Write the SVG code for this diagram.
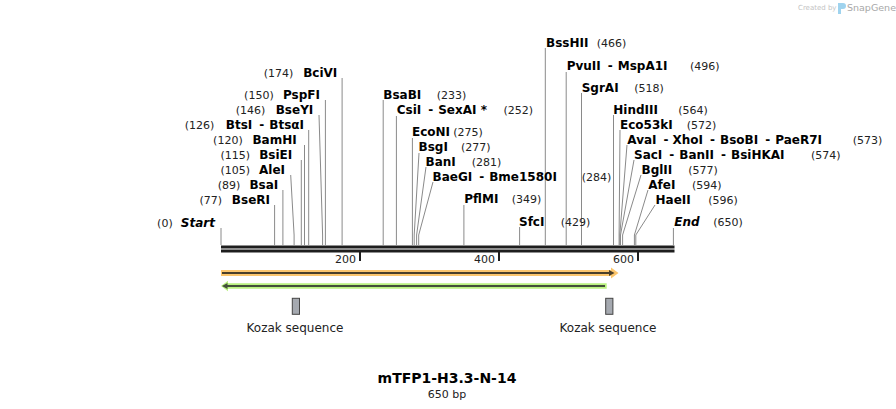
<svg xmlns="http://www.w3.org/2000/svg" width="896" height="409" viewBox="0 0 896 409">
<style>
.n{font-family:"DejaVu Sans",Verdana,sans-serif;font-weight:bold;font-size:12px;fill:#000}
.i{font-style:italic}
.p{font-family:"DejaVu Sans",Verdana,sans-serif;font-size:11px;fill:#222;font-weight:normal}
.e{text-anchor:end}
.cut{stroke:#8a8a8a;stroke-width:1;fill:none}
.bb{stroke:#1e1e1e;stroke-width:3}
.tick{stroke:#1e1e1e;stroke-width:2}
.lab{font-family:"DejaVu Sans",Verdana,sans-serif;font-size:12px;fill:#222}
.kz{fill:#a5a9b0;stroke:#444;stroke-width:1}
</style>
<rect width="896" height="409" fill="#fff"/>

<g id="logo">
<text x="798" y="10" style="font-family:'DejaVu Sans',sans-serif;font-size:7px;fill:#c4c4c4">Created by</text>
<path d="M838 3 h5 a3 3 0 0 1 0 6 h-2 v5 h-3 z" fill="#9fd3ee"/>
<text x="847" y="11" style="font-family:'DejaVu Sans',sans-serif;font-size:9.5px;fill:#a8a8a8">SnapGene</text>
</g>

<g id="connectors">
<polyline class="cut" points="221,228 221,245"/>
<polyline class="cut" points="274.6,205 274.6,245"/>
<polyline class="cut" points="282.9,190 282.9,245"/>
<polyline class="cut" points="290.7,175 294.1,235 294.1,245"/>
<polyline class="cut" points="301.3,160 301.3,245"/>
<polyline class="cut" points="304.5,145 304.5,245"/>
<polyline class="cut" points="308.7,130 308.7,245"/>
<polyline class="cut" points="319,115 322.6,235 322.6,245"/>
<polyline class="cut" points="325.4,100 325.4,245"/>
<polyline class="cut" points="342.1,78 342.1,245"/>
<polyline class="cut" points="383.2,100 383.2,245"/>
<polyline class="cut" points="396.4,116 396.4,245"/>
<polyline class="cut" points="412.4,138 412.4,245"/>
<polyline class="cut" points="419,153 414.2,235 414.2,245"/>
<polyline class="cut" points="426,167 416.6,235 416.6,245"/>
<polyline class="cut" points="433,182 418.7,235 418.7,245"/>
<polyline class="cut" points="463.9,205 463.9,245"/>
<polyline class="cut" points="519.6,227 519.6,245"/>
<polyline class="cut" points="545.3,48 545.3,245"/>
<polyline class="cut" points="566.2,72 566.2,245"/>
<polyline class="cut" points="581.5,93 581.5,245"/>
<polyline class="cut" points="613.5,115 613.5,245"/>
<polyline class="cut" points="620,130 619.1,235 619.1,245"/>
<polyline class="cut" points="627,145 619.8,235 619.8,245"/>
<polyline class="cut" points="634,160 620.5,235 620.5,245"/>
<polyline class="cut" points="641,175 622.6,235 622.6,245"/>
<polyline class="cut" points="648,190 634.4,235 634.4,245"/>
<polyline class="cut" points="655,205 635.8,235 635.8,245"/>
<polyline class="cut" points="673.4,228 673.4,245"/>
</g>

<g id="backbone">
<line class="bb" x1="221" y1="247" x2="674.5" y2="247"/>
<line class="bb" x1="221" y1="251" x2="674.5" y2="251"/>
<line class="tick" x1="360" y1="252" x2="360" y2="261"/>
<line class="tick" x1="499" y1="252" x2="499" y2="261"/>
<line class="tick" x1="638" y1="252" x2="638" y2="261"/>
<text class="p e" x="356" y="263">200</text>
<text class="p e" x="495" y="263">400</text>
<text class="p e" x="634" y="263">600</text>
</g>

<g id="feature-forward">
<polygon points="221,270 611,270 611,267.5 618.5,273 611,278.5 611,276 221,276" fill="#fcc66d"/>
<line x1="222" y1="273" x2="610" y2="273" stroke="#4a3f2a" stroke-width="2"/>
<polygon points="609,270 614.5,273 609,276" fill="#4a3f2a"/>
</g>
<g id="feature-reverse">
<polygon points="606.7,283.3 228,283.3 228,280.8 221,286 228,291.2 228,288.7 606.7,288.7" fill="#b9f27f"/>
<line x1="605" y1="286" x2="227" y2="286" stroke="#44503a" stroke-width="2"/>
<polygon points="227.5,283 222,286 227.5,289" fill="#44503a"/>
</g>

<g id="kozak-1">
<rect class="kz" x="292.3" y="298.3" width="7.2" height="16"/>
<text class="lab" x="295" y="332" text-anchor="middle">Kozak sequence</text>
</g>
<g id="kozak-2">
<rect class="kz" x="605.7" y="298.3" width="7.2" height="16"/>
<text class="lab" x="608" y="332" text-anchor="middle">Kozak sequence</text>
</g>

<g id="site-start"><text class="p e" x="172.7" y="226.5">(0)</text><text class="n i e" x="215" y="226.5">Start</text></g>
<g id="site-BseRI"><text class="p e" x="222" y="204">(77)</text><text class="n e" x="270" y="204">BseRI</text></g>
<g id="site-BsaI"><text class="p e" x="240.3" y="189">(89)</text><text class="n e" x="278.3" y="189">BsaI</text></g>
<g id="site-AleI"><text class="p e" x="250" y="174">(105)</text><text class="n e" x="285" y="174">AleI</text></g>
<g id="site-BsiEI"><text class="p e" x="250" y="159">(115)</text><text class="n e" x="292.3" y="159">BsiEI</text></g>
<g id="site-BamHI"><text class="p e" x="242.7" y="144">(120)</text><text class="n e" x="296.7" y="144">BamHI</text></g>
<g id="site-BtsI"><text class="p e" x="214.3" y="128.5">(126)</text><text class="n e" x="304" y="128.5">BtsI<tspan dx="7">-</tspan><tspan dx="5">BtsαI</tspan></text></g>
<g id="site-BseYI"><text class="p e" x="265.3" y="113.5">(146)</text><text class="n e" x="313.3" y="113.5">BseYI</text></g>
<g id="site-PspFI"><text class="p e" x="273.7" y="98.5">(150)</text><text class="n e" x="320" y="98.5">PspFI</text></g>
<g id="site-BciVI"><text class="p e" x="293.3" y="76.5">(174)</text><text class="n e" x="337.3" y="76.5">BciVI</text></g>

<g id="site-BsaBI"><text class="n" x="383.3" y="98.5">BsaBI</text><text class="p" x="436.7" y="98.5">(233)</text></g>
<g id="site-CsiI"><text class="n" x="396.7" y="114">CsiI<tspan dx="7">-</tspan><tspan dx="5">SexAI *</tspan></text><text class="p" x="503.5" y="114">(252)</text></g>
<g id="site-EcoNI"><text class="n" x="412" y="135.5">EcoNI</text><text class="p" x="453.3" y="135.5">(275)</text></g>
<g id="site-BsgI"><text class="n" x="418.5" y="150.5">BsgI</text><text class="p" x="461" y="150.5">(277)</text></g>
<g id="site-BanI"><text class="n" x="425.5" y="165.5">BanI</text><text class="p" x="471.7" y="165.5">(281)</text></g>
<g id="site-BaeGI"><text class="n" x="432.5" y="180.5">BaeGI<tspan dx="7">-</tspan><tspan dx="5">Bme1580I</tspan></text><text class="p" x="581.7" y="180.5">(284)</text></g>
<g id="site-PflMI"><text class="n" x="464.3" y="203">PflMI</text><text class="p" x="511.7" y="203">(349)</text></g>
<g id="site-SfcI"><text class="n" x="519" y="225.5">SfcI</text><text class="p" x="560.7" y="225.5">(429)</text></g>
<g id="site-BssHII"><text class="n" x="546" y="46.5">BssHII</text><text class="p" x="596.7" y="46.5">(466)</text></g>
<g id="site-PvuII"><text class="n" x="566.7" y="70">PvuII<tspan dx="7">-</tspan><tspan dx="5">MspA1I</tspan></text><text class="p" x="690" y="70">(496)</text></g>
<g id="site-SgrAI"><text class="n" x="581.7" y="92">SgrAI</text><text class="p" x="634.3" y="92">(518)</text></g>
<g id="site-HindIII"><text class="n" x="613.3" y="113.5">HindIII</text><text class="p" x="678.3" y="113.5">(564)</text></g>
<g id="site-Eco53kI"><text class="n" x="620" y="128.5">Eco53kI</text><text class="p" x="686.7" y="128.5">(572)</text></g>
<g id="site-AvaI"><text class="n" x="627.3" y="143.5">AvaI<tspan dx="7">-</tspan><tspan dx="5">XhoI</tspan><tspan dx="7">-</tspan><tspan dx="5">BsoBI</tspan><tspan dx="7">-</tspan><tspan dx="5">PaeR7I</tspan></text><text class="p" x="852.7" y="143.5">(573)</text></g>
<g id="site-SacI"><text class="n" x="634" y="158.5">SacI<tspan dx="7">-</tspan><tspan dx="5">BanII</tspan><tspan dx="7">-</tspan><tspan dx="5">BsiHKAI</tspan></text><text class="p" x="811" y="158.5">(574)</text></g>
<g id="site-BglII"><text class="n" x="641.5" y="173.5">BglII</text><text class="p" x="688.3" y="173.5">(577)</text></g>
<g id="site-AfeI"><text class="n" x="648.3" y="188.5">AfeI</text><text class="p" x="692" y="188.5">(594)</text></g>
<g id="site-HaeII"><text class="n" x="655.5" y="203.5">HaeII</text><text class="p" x="708.3" y="203.5">(596)</text></g>
<g id="site-end"><text class="n i" x="674.3" y="225.5">End</text><text class="p" x="713.3" y="225.5">(650)</text></g>

<g id="title">
<text x="447" y="383" text-anchor="middle" style="font-family:'DejaVu Sans',Verdana,sans-serif;font-weight:bold;font-size:14px;fill:#000">mTFP1-H3.3-N-14</text>
<text x="447" y="397.5" text-anchor="middle" class="p">650 bp</text>
</g>
</svg>
